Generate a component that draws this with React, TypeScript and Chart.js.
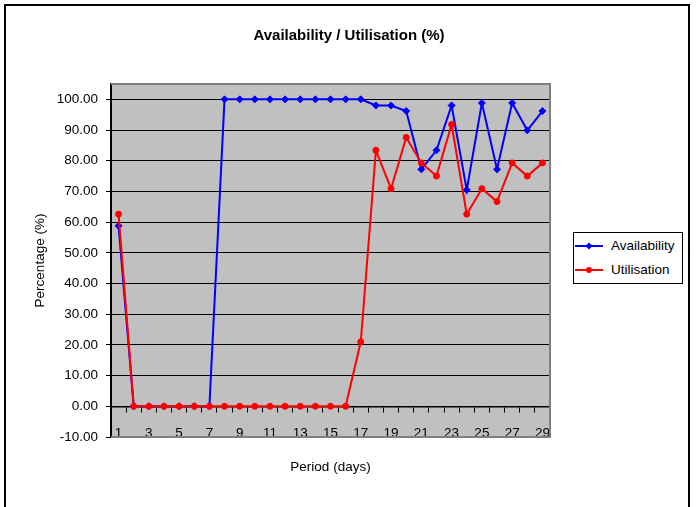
import React, { useEffect, useRef } from "react";
import { Chart, registerables } from "chart.js";

Chart.register(...registerables);

const days = ["1","2","3","4","5","6","7","8","9","10","11","12","13","14","15","16","17","18","19","20","21","22","23","24","25","26","27","28","29"];
const availability = [58.8, 0, 0, 0, 0, 0, 0, 100, 100, 100, 100, 100, 100, 100, 100, 100, 100, 98, 98, 96.2, 77.2, 83.4, 98, 70.5, 98.8, 77.2, 98.8, 89.9, 96.2];
const utilisation = [62.6, 0, 0, 0, 0, 0, 0, 0, 0, 0, 0, 0, 0, 0, 0, 0, 21.0, 83.4, 70.9, 87.6, 79.3, 75.0, 91.8, 62.6, 70.9, 66.7, 79.3, 75.0, 79.3];
const yTicks = [-10, 0, 10, 20, 30, 40, 50, 60, 70, 80, 90, 100];

const FONT = "'Liberation Sans', Arial, sans-serif";
const FS = 13.5;

const plotFrame = {
  id: "plotFrame",
  beforeDraw(chart: any) {
    const { ctx, chartArea } = chart;
    const { left, top, right, bottom } = chartArea;
    ctx.save();
    ctx.fillStyle = "#C0C0C0";
    ctx.fillRect(left, top, right - left, bottom - top);
    ctx.restore();
  },
  beforeDatasetsDraw(chart: any) {
    const { ctx, chartArea } = chart;
    const { left, top, right, bottom } = chartArea;
    ctx.save();
    ctx.strokeStyle = "#808080";
    ctx.lineWidth = 2;
    ctx.beginPath();
    ctx.moveTo(left, top);
    ctx.lineTo(right, top);
    ctx.lineTo(right, bottom);
    ctx.lineTo(left, bottom);
    ctx.stroke();
    ctx.restore();
  },
};

function LegendRow({ color, marker, label, top }: { color: string; marker: string; label: string; top: number }) {
  return (
    <div style={{ position: "absolute", left: 0, top, width: 108, height: 20 }}>
      <svg width={28} height={10} style={{ position: "absolute", left: 1, top: 5 }}>
        <line x1={0} y1={5} x2={28} y2={5} stroke={color} strokeWidth={2} />
        {marker === "diamond" ? (
          <polygon points="14,1.5 17.5,5 14,8.5 10.5,5" fill={color} />
        ) : (
          <circle cx={14} cy={5} r={3} fill={color} />
        )}
      </svg>
      <span
        style={{
          position: "absolute",
          left: 37,
          top: 0,
          font: `${FS}px ${FONT}`,
          lineHeight: "20px",
          color: "#000",
          whiteSpace: "nowrap",
        }}
      >
        {label}
      </span>
    </div>
  );
}

export default function App() {
  const canvasRef = useRef<HTMLCanvasElement | null>(null);

  useEffect(() => {
    if (!canvasRef.current) return;
    const chart = new Chart(canvasRef.current, {
      type: "line",
      data: {
        labels: days,
        datasets: [
          {
            label: "Availability",
            data: availability,
            borderColor: "#0000FF",
            backgroundColor: "#0000FF",
            borderWidth: 2,
            pointStyle: "rectRot",
            pointRadius: 3.5,
            pointBorderWidth: 1,
            tension: 0,
            order: 1,
          },
          {
            label: "Utilisation",
            data: utilisation,
            borderColor: "#FF0000",
            backgroundColor: "#FF0000",
            borderWidth: 2,
            pointStyle: "circle",
            pointRadius: 3,
            pointBorderWidth: 1,
            tension: 0,
            order: 0,
          },
        ],
      },
      options: {
        responsive: false,
        animation: false,
        devicePixelRatio: 1,
        layout: { padding: 0 },
        scales: {
          x: {
            type: "category",
            position: "bottom",
            offset: true,
            grid: { display: false },
            border: { display: false },
            ticks: {
              autoSkip: false,
              maxRotation: 0,
              mirror: true,
              padding: -4,
              color: "#000",
              font: { family: FONT, size: FS },
              callback: function (this: any, v: any, i: number) {
                return i % 2 === 0 ? this.getLabelForValue(v) : "";
              },
            },
            afterFit: (s: any) => {
              s.height = 4;
            },
          },
          x0: {
            type: "category",
            axis: "x",
            position: { y: 0 },
            offset: true,
            ticks: { display: false, autoSkip: false },
            grid: { drawOnChartArea: false, drawTicks: true, tickLength: 5, color: "#000", offset: true },
            border: { display: true, color: "#000", width: 1.5 },
          },
          y: {
            min: -10,
            max: 105,
            afterBuildTicks: (s: any) => {
              s.ticks = yTicks.map((v) => ({ value: v }));
            },
            ticks: {
              padding: 8,
              color: "#000",
              font: { family: FONT, size: FS },
              callback: (v: any) => Number(v).toFixed(2),
            },
            grid: { color: "#000", lineWidth: 1, tickLength: 5, drawTicks: true },
            border: { color: "#000", width: 2 },
            title: {
              display: true,
              text: "Percentage (%)",
              color: "#000",
              font: { family: FONT, size: FS },
              padding: { top: 31.9, bottom: 0 },
            },
            afterFit: (s: any) => {
              s.width = 111;
            },
          },
          yR: {
            type: "linear",
            axis: "y",
            position: "right",
            display: true,
            grid: { display: false },
            border: { display: false },
            ticks: { display: false },
            afterFit: (s: any) => {
              s.width = 148;
            },
          },
        } as any,
        plugins: {
          legend: { display: false },
          tooltip: { enabled: false },
          title: {
            display: true,
            text: "Availability / Utilisation (%)",
            color: "#000",
            font: { family: FONT, size: 15, weight: "bold" },
            padding: { top: 27, bottom: 39 },
          },
          subtitle: {
            display: true,
            position: "bottom",
            fullSize: false,
            text: "Period (days)",
            color: "#000",
            font: { family: FONT, size: FS, weight: "normal" },
            padding: { top: 17.9, bottom: 31.9 },
          },
        },
      },
      plugins: [plotFrame],
    } as any);
    return () => chart.destroy();
  }, []);

  return (
    <div style={{ position: "fixed", left: 0, top: 0, width: 698, height: 507, background: "#fff", overflow: "hidden" }}>
      <canvas ref={canvasRef} width={698} height={507} style={{ position: "absolute", left: 0, top: 0, width: 698, height: 507 }} />
      <div
        style={{
          position: "absolute",
          left: 4,
          top: 4,
          width: 686,
          height: 520,
          boxSizing: "border-box",
          borderTop: "2px solid #000",
          borderLeft: "2px solid #000",
          borderRight: "2px solid #000",
          pointerEvents: "none",
        }}
      />
      <div
        style={{
          position: "absolute",
          left: 573,
          top: 232,
          width: 110,
          height: 52,
          boxSizing: "border-box",
          border: "1px solid #000",
          background: "#fff",
        }}
      >
        <LegendRow color="#0000FF" marker="diamond" label="Availability" top={3} />
        <LegendRow color="#FF0000" marker="circle" label="Utilisation" top={27} />
      </div>
    </div>
  );
}
